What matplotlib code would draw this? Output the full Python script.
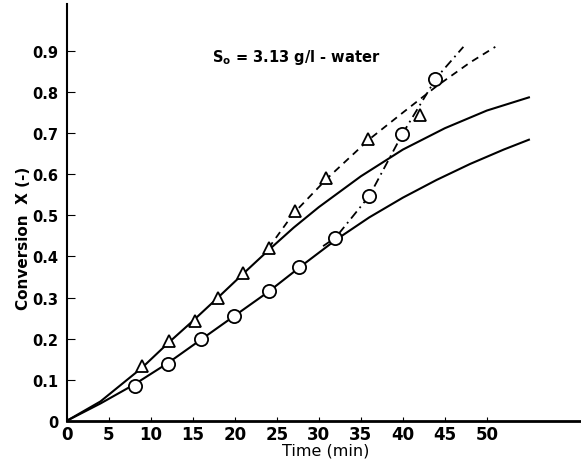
import numpy as np
import matplotlib.pyplot as plt

t_tri = [9, 12.2, 15.2, 18, 21, 24.1, 27.1, 30.9, 35.9, 42]
x_tri = [0.134, 0.193, 0.243, 0.300, 0.359, 0.420, 0.511, 0.592, 0.685, 0.744]
t_circ = [8.1, 12, 16, 19.9, 24.1, 27.6, 31.9, 36, 39.9, 43.8]
x_circ = [0.085, 0.138, 0.199, 0.255, 0.316, 0.375, 0.446, 0.547, 0.699, 0.831]

# calculated curves (solid)
t_calc1 = [0, 4, 9, 12, 15, 18, 21, 24, 27, 30, 35, 40, 45, 50, 55]
x_calc1 = [0, 0.047, 0.130, 0.188, 0.243, 0.300, 0.358, 0.415, 0.470, 0.520,
           0.595, 0.660, 0.712, 0.755, 0.787]
t_calc2 = [0, 4, 8, 12, 16, 20, 24, 28, 32, 36, 40, 44, 48, 52, 55]
x_calc2 = [0, 0.042, 0.088, 0.140, 0.198, 0.256, 0.314, 0.378, 0.440, 0.495,
           0.543, 0.586, 0.625, 0.660, 0.684]

# hand-drawn trend lines through the data
t_dash = [24, 27, 31, 36, 40, 44, 48, 51]
x_dash = [0.420, 0.505, 0.590, 0.685, 0.750, 0.814, 0.872, 0.910]
t_dashdot = [30.5, 32, 36, 40, 44, 47.2]
x_dashdot = [0.425, 0.446, 0.547, 0.700, 0.835, 0.910]

xticks = [0, 5, 10, 15, 20, 25, 30, 35, 40, 45, 50]
yticks = [0, 0.1, 0.2, 0.3, 0.4, 0.5, 0.6, 0.7, 0.8, 0.9]

fig = plt.figure(figsize=(5.81, 4.64), dpi=100)
ax = fig.add_axes([0.115, 0.091, 0.885, 0.898])

ax.plot(t_calc1, x_calc1, color='black', lw=1.5)
ax.plot(t_calc2, x_calc2, color='black', lw=1.5)
ax.plot(t_dash, x_dash, color='black', lw=1.3, ls=(0, (4, 3)))
ax.plot(t_dashdot, x_dashdot, color='black', lw=1.3, ls=(0, (5, 2.5, 1, 2.5)))

ax.plot(t_tri, x_tri, ls='none', marker='^', ms=9, mfc='white', mec='black', mew=1.3, zorder=3)
ax.plot(t_circ, x_circ, ls='none', marker='o', ms=9.5, mfc='white', mec='black', mew=1.3, zorder=3)

ax.text(27.3, 0.887, 'S$_\\mathbf{o}$ = 3.13 g/l - water', ha='center', va='center',
        fontsize=10.5, fontweight='bold')

ax.set_xlim(0, 61.2)
ax.set_ylim(0, 1.014)
ax.set_xticks(xticks)
ax.set_xticklabels([str(v) for v in xticks], fontsize=12, fontweight='bold')
ax.set_yticks(yticks)
ax.set_yticklabels(['0'] + ['%.1f' % v for v in yticks[1:]], fontsize=10.5, fontweight='bold')
ax.tick_params(axis='x', direction='in', length=3, width=0.8, pad=3)
ax.tick_params(axis='y', direction='in', length=6, width=0.8, pad=6)

for s in ['top', 'right']:
    ax.spines[s].set_visible(False)
ax.spines['left'].set_linewidth(1.5)
ax.spines['bottom'].set_linewidth(2)

ax.set_xlabel('Time (min)', fontsize=11.5)
ax.xaxis.set_label_coords(0.504, -0.053)
ax.set_ylabel('Conversion  X (-)', fontsize=11, fontweight='bold')
ax.yaxis.set_label_coords(-0.07, 0.44)

fig.savefig('out.png', dpi=100)
